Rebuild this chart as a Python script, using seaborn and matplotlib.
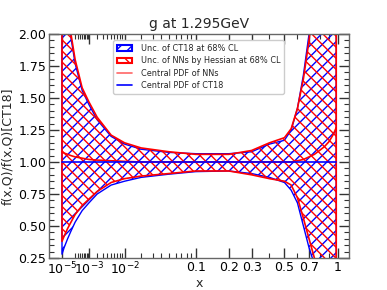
import numpy as np
import pandas as pd
import matplotlib
matplotlib.use("Agg")
import matplotlib.pyplot as plt
import seaborn as sns
from matplotlib.patches import Patch
from matplotlib.lines import Line2D
from matplotlib.ticker import FixedLocator, FixedFormatter, MultipleLocator

# ---------------- data ----------------
x_vals = [1e-5, 2e-5, 5e-5, 1e-4, 2e-4, 5e-4, 1e-3, 2e-3, 5e-3, 0.01, 0.02, 0.05,
          0.1, 0.2, 0.3, 0.4, 0.5, 0.55, 0.6, 0.65, 0.7, 0.75, 0.8, 0.85, 0.9, 0.95, 0.98]
nn_upper = [3.2, 2.7, 2.25, 2.0, 1.8, 1.58, 1.47, 1.35, 1.21, 1.15, 1.11, 1.08,
            1.06, 1.06, 1.09, 1.15, 1.19, 1.26, 1.42, 1.65, 1.95, 2.35, 2.9, 3.6, 4.5, 6.0, 8.0]
nn_lower = [0.38, 0.42, 0.48, 0.53, 0.59, 0.66, 0.71, 0.77, 0.84, 0.87, 0.89, 0.91,
            0.93, 0.93, 0.90, 0.87, 0.85, 0.82, 0.72, 0.56, 0.40, 0.25, 0.10, -0.1, -0.4, -0.8, -1.2]
ct_upper = [3.0, 2.6, 2.2, 1.97, 1.77, 1.56, 1.45, 1.33, 1.20, 1.14, 1.10, 1.075,
            1.065, 1.065, 1.08, 1.14, 1.17, 1.25, 1.42, 1.68, 2.0, 2.45, 3.0, 3.7, 4.6, 6.0, 8.0]
ct_lower = [0.28, 0.33, 0.40, 0.46, 0.53, 0.62, 0.68, 0.75, 0.82, 0.85, 0.88, 0.905,
            0.925, 0.93, 0.91, 0.88, 0.84, 0.78, 0.68, 0.50, 0.33, 0.20, 0.05, -0.1, -0.4, -0.8, -1.2]
nn_central = [1.08, 1.07, 1.06, 1.05, 1.04, 1.03, 1.02, 1.015, 1.01, 1.005, 1.0, 1.0,
              1.0, 1.0, 1.0, 1.0, 1.0, 1.0, 1.01, 1.02, 1.04, 1.06, 1.09, 1.12, 1.16, 1.22, 1.27]
ct_central = [1.0] * len(x_vals)

x_ticks = [1e-5, 1e-3, 1e-2, 0.1, 0.2, 0.3, 0.5, 0.7, 1.0]
x_ticklabels = [r"$10^{-5}$", r"$10^{-3}$", r"$10^{-2}$", "0.1", "0.2", "0.3", "0.5", "0.7", "1"]
title = "g at 1.295GeV"

df = pd.DataFrame({"x": x_vals, "nn": nn_central, "ct": ct_central})

# ---------------- style ----------------
sns.set_style("ticks")
plt.rcParams["font.family"] = ["DejaVu Sans"]
plt.rcParams["hatch.linewidth"] = 1.0

fig = plt.figure(figsize=(3.87, 2.90), dpi=100)
ax = fig.add_axes([0.1266, 0.1103, 0.7752, 0.7724])

P = 0.3
def fwd(v):
    v = np.asarray(v, dtype=float)
    return np.sign(v) * np.abs(v) ** P
def inv(v):
    v = np.asarray(v, dtype=float)
    return np.sign(v) * np.abs(v) ** (1.0 / P)
ax.set_xscale("function", functions=(fwd, inv))

ax.fill_between(df["x"], ct_lower, ct_upper, facecolor="none", edgecolor="blue",
                hatch="///", linewidth=1.0)
ax.fill_between(df["x"], nn_lower, nn_upper, facecolor="none", edgecolor="red",
                hatch="\\\\\\", linewidth=1.2)

sns.lineplot(data=df, x="x", y="nn", ax=ax, color="red", linewidth=1.2, sort=False)
sns.lineplot(data=df, x="x", y="ct", ax=ax, color="blue", linewidth=1.2, sort=False)

ax.set_xlim(-6.6e-7, 1.135)
ax.set_ylim(0.25, 2.0)

ax.xaxis.set_major_locator(FixedLocator(x_ticks))
ax.xaxis.set_major_formatter(FixedFormatter(x_ticklabels))
minor = [k * 10.0 ** e for e in (-4, -3, -2) for k in range(2, 10)] + [0.4, 0.6, 0.8, 0.9]
ax.xaxis.set_minor_locator(FixedLocator(minor))
ax.yaxis.set_major_locator(MultipleLocator(0.25))
ax.yaxis.set_minor_locator(MultipleLocator(0.05))
ax.yaxis.set_major_formatter(matplotlib.ticker.FormatStrFormatter("%.2f"))

ax.tick_params(which="both", direction="in", top=True, right=True, colors="#333333",
               labelcolor="black", labelsize=9, pad=2)
ax.tick_params(which="major", length=7, width=1.0)
ax.tick_params(which="minor", length=3.5, width=0.8)
for s in ax.spines.values():
    s.set_color("#666666")
    s.set_linewidth(1.0)

ax.set_title(title, fontsize=10, pad=4)
ax.set_xlabel("x", fontsize=9, labelpad=0)
ax.set_ylabel("f(x,Q)/f(x,Q)[CT18]", fontsize=9, labelpad=3)

handles = [
    Patch(facecolor="none", edgecolor="blue", hatch="///", linewidth=1.5),
    Patch(facecolor="none", edgecolor="red", hatch="\\\\\\", linewidth=1.5),
    Line2D([0], [0], color="red", alpha=0.6, linewidth=1.2),
    Line2D([0], [0], color="blue", linewidth=1.2),
]
labels = ["Unc. of CT18 at 68% CL", "Unc. of NNs by Hessian at 68% CL",
          "Central PDF of NNs", "Central PDF of CT18"]
ax.legend(handles, labels, loc="upper left", bbox_to_anchor=(0.2, 0.99), fontsize=5.9,
          frameon=True, framealpha=1.0, edgecolor="#cccccc", handlelength=1.9,
          borderpad=0.45, labelspacing=0.42, handletextpad=1.0)

fig.savefig("out.png", dpi=100)
